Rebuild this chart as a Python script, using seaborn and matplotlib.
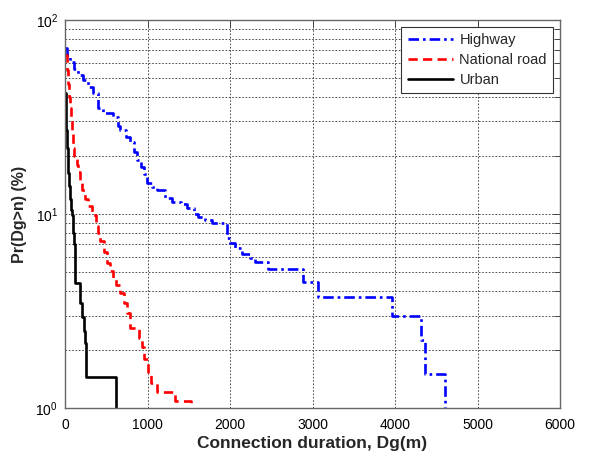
import matplotlib
matplotlib.use("Agg")
import matplotlib.pyplot as plt
import matplotlib.ticker as mticker
import numpy as np
import pandas as pd
import seaborn as sns

# Complementary CDF of connection duration per road type (step curves)
highway_x = [0, 30, 60, 110, 160, 218, 280, 340, 400, 460, 580, 640, 667, 740, 788,
             840, 873, 920, 960, 994, 1060, 1115, 1212, 1300, 1400, 1479, 1560, 1612,
             1700, 1782, 1960, 2000, 2060, 2150, 2242, 2300, 2460, 2885, 3064, 3964,
             4315, 4364, 4606]
highway_y = [72, 66, 61, 56, 52, 49, 45, 42, 35, 33, 31.6, 28.5, 27, 25, 23.5,
             21, 19, 17.5, 16, 14.4, 13.8, 13.3, 12.1, 11.6, 11.2, 10.7, 10.0, 9.65,
             9.3, 9.0, 7.5, 7.1, 6.7, 6.2, 5.97, 5.66, 5.22, 4.48, 3.73, 2.99,
             2.24, 1.49, 0.9]

national_x = [0, 20, 35, 50, 60, 70, 85, 100, 115, 140, 160, 182, 206, 242, 280, 327,
              370, 400, 424, 470, 509, 540, 582, 620, 667, 710, 752, 788, 900, 930,
              960, 1006, 1040, 1115, 1333, 1525]
national_y = [66, 55, 47, 40, 35, 30.5, 26, 22, 20, 18, 16.5, 15, 13.3, 11.9, 11, 9.9,
              8.7, 8.0, 7.3, 6.4, 5.6, 5.1, 4.7, 4.3, 3.9, 3.5, 3.1, 2.6, 2.3, 2.06,
              1.8, 1.53, 1.35, 1.21, 1.09, 0.9]

urban_x = [0, 10, 14, 18, 24, 32, 40, 50, 61, 73, 85, 97, 110, 121, 125, 182, 200,
           225, 242, 255, 618]
urban_y = [42, 38, 32, 27, 22, 19, 16.3, 14, 12, 10.5, 9.9, 8.0, 7.0, 6.0, 4.4, 3.5,
           2.94, 2.5, 2.16, 1.45, 0.9]

series = [
    ("Highway", highway_x, highway_y, "#0000ff", (4, 1.5, 1, 1.5)),
    ("National road", national_x, national_y, "#ff0000", (3.5, 2)),
    ("Urban", urban_x, urban_y, "#000000", None),
]

x_ticks = [0, 1000, 2000, 3000, 4000, 5000, 6000]

sns.set_style("white")
plt.rcParams["font.family"] = ["Liberation Sans", "DejaVu Sans"]
plt.rcParams["mathtext.fontset"] = "custom"
plt.rcParams["mathtext.rm"] = "Liberation Sans"

fig = plt.figure(figsize=(5.92, 4.58), dpi=100)
ax = fig.add_axes([0.1098, 0.109, 0.8362, 0.8473])

for name, xs, ys, color, dash in series:
    df = pd.DataFrame({"duration": xs, "prob": ys})
    kw = dict(drawstyle="steps-post")
    if dash is not None:
        kw["dashes"] = dash
    sns.lineplot(data=df, x="duration", y="prob", ax=ax, color=color, lw=1.9,
                 estimator=None, sort=False, label=name, **kw)

ax.set_yscale("log")
ax.set_xlim(0, 6000)
ax.set_ylim(1, 100)
ax.set_xticks(x_ticks)
ax.set_xticklabels([str(t) for t in x_ticks])
ax.yaxis.set_major_locator(mticker.LogLocator(base=10, numticks=5))
ax.yaxis.set_minor_locator(mticker.LogLocator(base=10, subs=np.arange(2, 10), numticks=20))
ax.yaxis.set_minor_formatter(mticker.NullFormatter())

grid_kw = dict(color="#333333", linestyle=(0, (2, 2)), linewidth=0.6)
ax.grid(True, which="major", axis="both", **grid_kw)
ax.grid(True, which="minor", axis="y", **grid_kw)
ax.set_axisbelow(True)

ax.tick_params(axis="both", which="both", direction="in", top=True, right=True,
               labelsize=10, colors="#444444", labelcolor="black")
ax.tick_params(axis="both", which="major", length=5, width=0.7)
ax.tick_params(axis="y", which="minor", length=4.3, width=0.7)
ax.tick_params(axis="x", pad=7)
ax.tick_params(axis="y", pad=5)
for sp in ax.spines.values():
    sp.set_color("#666666")
    sp.set_linewidth(1.0)

ax.set_xlabel("Connection duration, Dg(m)", fontsize=12.5, fontweight="bold", labelpad=3)
ax.set_ylabel("Pr(Dg>n) (%)", fontsize=11.5, fontweight="bold", labelpad=6)

leg = ax.legend(loc="upper right", fontsize=10.5, frameon=True, fancybox=False,
                handlelength=3.1, handletextpad=0.45, borderaxespad=0.45,
                labelspacing=0.4, borderpad=0.45)
leg.get_frame().set_edgecolor("#333333")
leg.get_frame().set_linewidth(0.8)
leg.get_frame().set_alpha(1)

fig.savefig("out.png", dpi=100)
